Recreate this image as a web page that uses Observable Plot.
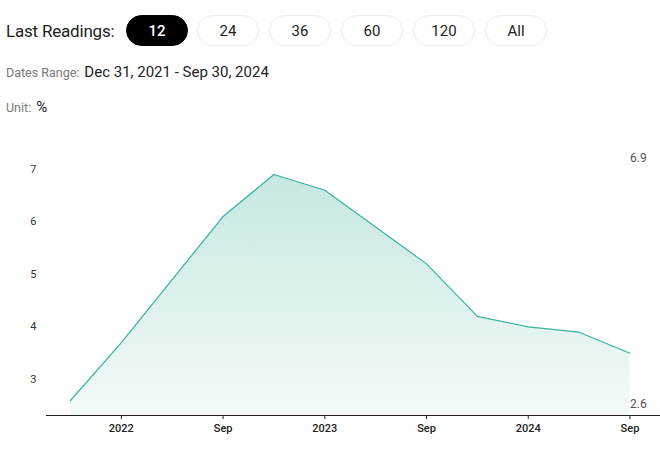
<!DOCTYPE html>
<html><head><meta charset="utf-8">
<script src="https://cdn.jsdelivr.net/npm/d3@7"></script>
<script src="https://cdn.jsdelivr.net/npm/@observablehq/plot@0.6"></script>
<style>
body{margin:0;background:#fff;font-family:Roboto,"Open Sans",sans-serif;width:660px;height:458px;overflow:hidden;position:relative;color:#222}
.lr{position:absolute;left:6px;top:19px;font-size:17px;line-height:24px;color:#222;letter-spacing:-0.2px}
.pill{position:absolute;top:15px;width:60px;height:29px;border:1px solid #ececec;border-radius:16px;font-size:15px;line-height:30px;text-align:center;color:#222;background:#fff}
.pill.on{background:#000;color:#fff;border-color:#000;font-weight:500}
.row{position:absolute;left:6px;white-space:nowrap}
.sm{font-size:12.5px;color:#777}
.big{font-size:15px;color:#222;margin-left:5px}
#chart{position:absolute;left:0;top:130px}
</style></head><body>
<div class="lr">Last Readings:</div>
<div class="pill on" style="left:126px">12</div>
<div class="pill" style="left:197px">24</div>
<div class="pill" style="left:269px">36</div>
<div class="pill" style="left:341px">60</div>
<div class="pill" style="left:413px">120</div>
<div class="pill" style="left:485px">All</div>
<div class="row" style="top:62px"><span class="sm">Dates Range:</span><span class="big">Dec 31, 2021 - Sep 30, 2024</span></div>
<div class="row" style="top:97px"><span class="sm">Unit:</span><span class="big">%</span></div>
<div id="chart"></div>
<script>
const quarters = ["2021-12","2022-03","2022-06","2022-09","2022-12","2023-03","2023-06","2023-09","2023-12","2024-03","2024-06","2024-09"];
const values = [2.6, 3.7, 4.9, 6.1, 6.9, 6.6, 5.9, 5.2, 4.2, 4.0, 3.9, 3.5];
const yTicks = [3, 4, 5, 6, 7];
const xTicks = ["2022-03","2022-09","2023-03","2023-09","2024-03","2024-09"];
const xTickLabels = ["2022","Sep","2023","Sep","2024","Sep"];
const yDomain = [2.315, 7.357];

const data = quarters.map((q, i) => ({q, v: values[i]}));
const last = quarters[quarters.length - 1];
const maxV = d3.max(values), minV = d3.min(values);

const gradientDefs = () => {
  const ns = "http://www.w3.org/2000/svg";
  const defs = document.createElementNS(ns, "defs");
  defs.innerHTML = '<linearGradient id="areaGrad" x1="0" y1="0" x2="0" y2="1"><stop offset="0" stop-color="#c6e7e2"/><stop offset="1" stop-color="#f3faf9"/></linearGradient>';
  return defs;
};

const chart = Plot.plot({
  width: 660, height: 318,
  marginLeft: 46, marginRight: 0, marginTop: 20, marginBottom: 33,
  style: {fontFamily: "Roboto, 'Open Sans', sans-serif", fontSize: "11px", color: "#222", background: "transparent"},
  x: {type: "point", domain: quarters, padding: 0.536, align: 0.44, round: false},
  y: {domain: yDomain},
  marks: [
    gradientDefs,
    Plot.areaY(data, {x: "q", y1: yDomain[0], y2: "v", fill: "url(#areaGrad)"}),
    Plot.line(data, {x: "q", y: "v", stroke: "#3ab3a2", strokeWidth: 1.2}),
    Plot.ruleY([yDomain[0]], {stroke: "#222", strokeWidth: 1}),
    Plot.axisY(yTicks, {tickSize: 0, tickPadding: 10, label: null, fill: "#333", tickFormat: d => String(d)}),
    Plot.axisX(xTicks, {tickSize: 4, tickPadding: 5, label: null, stroke: "#222", fill: "#222", fontWeight: 500,
      tickFormat: d => xTickLabels[xTicks.indexOf(d)]}),
    Plot.text([{q: last, v: maxV}], {x: "q", y: "v", text: d => String(d.v), textAnchor: "start", dy: -16, fill: "#555", fontSize: 12}),
    Plot.text([{q: last, v: minV}], {x: "q", y: "v", text: d => String(d.v), textAnchor: "start", dy: 4, fill: "#555", fontSize: 12})
  ]
});
document.getElementById("chart").appendChild(chart);
</script>
</body></html>
